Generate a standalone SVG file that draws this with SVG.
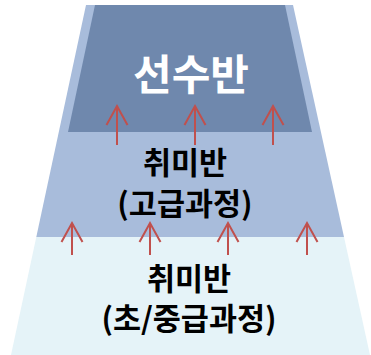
<svg xmlns="http://www.w3.org/2000/svg" width="371" height="355" viewBox="0 0 371 355">
<style>
.lbl{font-family:"Noto Sans CJK KR","Noto Sans",sans-serif;font-weight:bold;text-anchor:middle}
.dark{font-size:30.5px;fill:#000}
.title{font-size:42px;fill:#fff}
.arr{stroke:#C0504D;stroke-width:2;fill:none;marker-end:url(#ah)}
</style>
<defs>
<marker id="ah" markerUnits="userSpaceOnUse" viewBox="-22 -12 24 24" markerWidth="24" markerHeight="24" refX="0" refY="0" orient="auto" overflow="visible">
<path d="M-19,-10.5 L0,0 L-19,10.5" fill="none" stroke="#C0504D" stroke-width="2"/>
</marker>
</defs>
<rect width="371" height="355" fill="#fff"/>
<g id="bottom-band">
<polygon points="36.3,237 344,237 370,355 11,355" fill="#E5F3F8"/>
<text class="lbl dark"><tspan x="189" y="290">취미반</tspan><tspan x="189" y="330">(초/중급과정)</tspan></text>
</g>
<g id="middle-band">
<polygon points="86,5 293,5 344,237 36.3,237" fill="#A8BCDB"/>
<text class="lbl dark"><tspan x="185" y="174">취미반</tspan><tspan x="185" y="215">(고급과정)</tspan></text>
</g>
<g id="top-band">
<polygon points="95,5 285,5 312,132 68,132" fill="#6F88AD"/>
<text class="lbl title" x="191" y="90">선수반</text>
</g>
<g id="connectors">
<line class="arr" x1="117" y1="145" x2="117" y2="106"/>
<line class="arr" x1="195" y1="145" x2="195" y2="106"/>
<line class="arr" x1="273" y1="145" x2="273" y2="106"/>
<line class="arr" x1="72" y1="255" x2="72" y2="223"/>
<line class="arr" x1="150" y1="255" x2="150" y2="223"/>
<line class="arr" x1="228" y1="255" x2="228" y2="223"/>
<line class="arr" x1="307" y1="255" x2="307" y2="223"/>
</g>
</svg>
